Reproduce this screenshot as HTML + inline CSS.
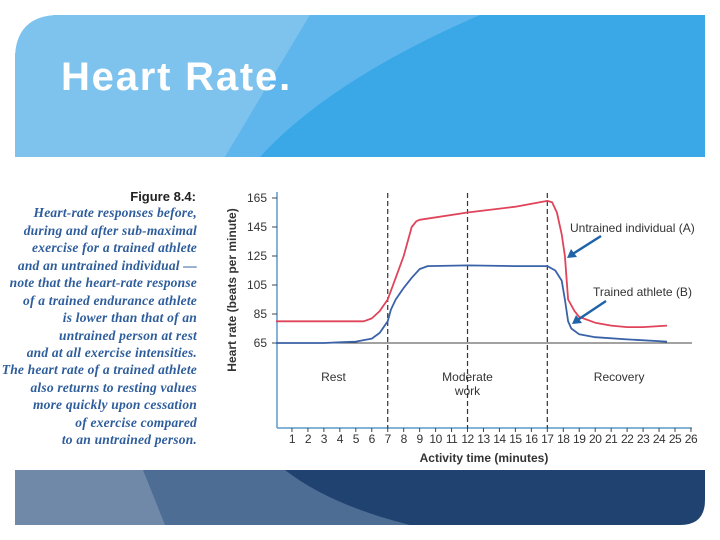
<!DOCTYPE html>
<html><head><meta charset="utf-8"><style>
body{margin:0;width:720px;height:540px;background:#fff;overflow:hidden;position:relative;font-family:"Liberation Sans",sans-serif}
</style></head><body>
<svg width="720" height="540" style="position:absolute;left:0;top:0">
<g>
<path d="M15,157 L15,60 Q15,15 60,15 L705,15 L705,157 Z" fill="#3aa7e7"/>
<path d="M15,157 L15,60 Q15,15 60,15 L310,15 L225,157 Z" fill="#7ec3ee"/>
<path d="M225,157 L310,15 L480,15 Q330,80 260,157 Z" fill="#5fb6ec"/>
<text x="61" y="90" fill="#fff" font-size="40" font-weight="bold" letter-spacing="1.8">Heart Rate.</text>
</g>
<g>
<path d="M15,470 L705,470 L705,500 Q705,525 680,525 L15,525 Z" fill="#1f4270"/>
<path d="M15,470 L285,470 Q330,505 410,525 L15,525 Z" fill="#4e6d94"/>
<path d="M15,470 L143,470 L165,525 L15,525 Z" fill="#7089a9"/>
</g>
<text x="196" y="201" text-anchor="end" font-size="13" font-weight="bold" fill="#222">Figure 8.4:</text>
<g font-family="'Liberation Serif',serif" font-style="italic" font-weight="bold" font-size="13.5" letter-spacing="0.2" fill="#2e5d9c" text-anchor="end">
<text x="197" y="217">Heart-rate responses before,</text>
<text x="197" y="235">during and after sub-maximal</text>
<text x="197" y="252">exercise for a trained athlete</text>
<text x="197" y="270">and an untrained individual —</text>
<text x="197" y="287">note that the heart-rate response</text>
<text x="197" y="305">of a trained endurance athlete</text>
<text x="197" y="322">is lower than that of an</text>
<text x="197" y="340">untrained person at rest</text>
<text x="197" y="357">and at all exercise intensities.</text>
<text x="197" y="374">The heart rate of a trained athlete</text>
<text x="197" y="392">also returns to resting values</text>
<text x="197" y="409">more quickly upon cessation</text>
<text x="197" y="427">of exercise compared</text>
<text x="197" y="444">to an untrained person.</text>
</g>
<g id="chart"></g>
</svg>
<script>
const xTicks=[1,2,3,4,5,6,7,8,9,10,11,12,13,14,15,16,17,18,19,20,21,22,23,24,25,26];
const yTicks=[65,85,105,125,145,165];
const phaseLines=[7,12,17];
const untrainedT=[0,5.5,6,6.5,7,7.5,8,8.5,8.8,9,12,15,17,17.3,17.6,17.9,18.1,18.3,18.7,19,20,21,22,23,24.5];
const untrainedHR=[80,80,82,87,95,110,125,145,149,150,155,159,163,162,155,140,125,95,87,83,79,77,76,76,77];
const trainedT=[0,3,4,5,6,6.5,7,7.2,7.5,8,8.5,9,9.5,12,15,17,17.5,17.9,18.1,18.3,18.5,19,20,22,24.5];
const trainedHR=[65,65,65.5,66,68,72,80,88,95,103,110,116,118,118.5,118,118,115,108,95,80,75,71,69,67.5,66];
const X=m=>276+m*15.96;
const Y=v=>343-(v-65)*1.45;
const NS='http://www.w3.org/2000/svg';
const g=document.getElementById('chart');
function mk(t,a,txt){const e=document.createElementNS(NS,t);for(const k in a)e.setAttribute(k,a[k]);if(txt!==undefined)e.textContent=txt;g.appendChild(e);return e;}
let e;
e=mk('line',{x1:277,y1:192,x2:277,y2:428,stroke:'#5a9ccc','stroke-width':1.5});


e=mk('line',{x1:277,y1:428,x2:692,y2:428,stroke:'#5a9ccc','stroke-width':1.5});


e=mk('line',{x1:277,y1:Y(65),x2:692,y2:Y(65),stroke:'#444','stroke-width':1});


yTicks.forEach(v=>{
 e=mk('line',{x1:272,y1:Y(v),x2:277,y2:Y(v),stroke:'#444'});
 
 
 e=mk('text',{x:267,y:Y(v)+4,'text-anchor':'end','font-size':12,fill:'#333'},v);
 
 
});
xTicks.forEach(m=>{
 e=mk('line',{x1:X(m),y1:428,x2:X(m),y2:432,stroke:'#444'});
 
 
 e=mk('text',{x:X(m),y:443,'text-anchor':'middle','font-size':12,fill:'#333','letter-spacing':'-0.5'},m);
 
 
});
phaseLines.forEach(m=>{
 e=mk('line',{x1:X(m),y1:193,x2:X(m),y2:428,stroke:'#333','stroke-dasharray':'5,3','stroke-width':1.2});
 
 
});
function path(ts,vs,c,name){
 let d=ts.map((t,i)=>(i?'L':'M')+X(t).toFixed(1)+','+Y(vs[i]).toFixed(1)).join('');
 e=mk('path',{d:d,fill:'none',stroke:c,'stroke-width':1.8,'stroke-linejoin':'round'});
 
 
}
path(untrainedT,untrainedHR,'#e0445a','untrained-line');
path(trainedT,trainedHR,'#3a62a8','trained-line');
[['Rest',X(3.6),381,'phase-rest'],['Moderate',X(12),381,'phase-work'],['work',X(12),395,'phase-work-2'],['Recovery',X(21.5),381,'phase-recovery']].forEach(p=>{
 e=mk('text',{x:p[1],y:p[2],'text-anchor':'middle','font-size':12,fill:'#333'},p[0]);
 
 
});
e=mk('text',{x:570,y:232,'font-size':12,fill:'#333'},'Untrained individual (A)');


e=mk('text',{x:593,y:296,'font-size':12,fill:'#333'},'Trained athlete (B)');


[[601,236,567,258,'arrow-untrained'],[606,301,572,324,'arrow-trained']].forEach(a=>{
 e=mk('line',{x1:a[0],y1:a[1],x2:a[2]+4,y2:a[3]-3,stroke:'#1f63a8','stroke-width':2.5});
 
 
 e=mk('polygon',{points:`${a[2]},${a[3]} ${a[2]+4},${a[3]-9} ${a[2]+10},${a[3]-1}`,fill:'#1f63a8'});
 
 
});
e=mk('text',{x:0,y:0,'font-size':12,'font-weight':'bold',fill:'#333','text-anchor':'middle',transform:'translate(236,290) rotate(-90)'},'Heart rate (beats per minute)');


e=mk('text',{x:484,y:462,'font-size':12,'font-weight':'bold',fill:'#333','text-anchor':'middle'},'Activity time (minutes)');


</script>
</body></html>
